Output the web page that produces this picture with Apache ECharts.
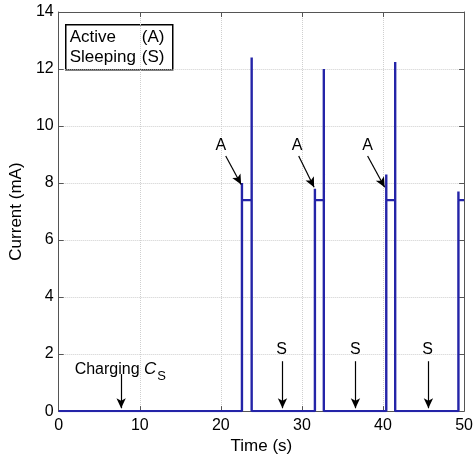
<!DOCTYPE html>
<html>
<head>
<meta charset="utf-8">
<script src="https://cdn.jsdelivr.net/npm/echarts@6/dist/echarts.min.js"></script>
<style>
html,body{margin:0;padding:0;background:#fff;}
#main{width:476px;height:460px;}
</style>
</head>
<body>
<div id="main"></div>
<script>
// step trace of the supply current
var time    = [0, 22.6, 22.6, 22.6, 23.8, 23.8, 23.8, 31.6, 31.6, 31.6, 32.7, 32.7, 32.7, 40.4, 40.4, 40.4, 41.5, 41.5, 41.5, 49.3, 49.3, 49.3, 50];
var current = [0, 0,    8.0,  7.4,  7.4,  12.4, 0,    0,    7.8,  7.4,  7.4,  12.0, 0,    0,    8.3,  7.4,  7.4,  12.25, 0,   0,    7.7,  7.4,  7.4];

var xMin = 0, xMax = 50, xStep = 10;
var yMin = 0, yMax = 14, yStep = 2;

// annotation anchors (data coords)
var activeText  = [[20.0, 9.3], [29.4, 9.3], [38.1, 9.3]];
var activeArrow = [[[20.6, 8.95], [22.5, 7.95]], [[29.6, 8.95], [31.5, 7.85]], [[38.1, 8.95], [40.2, 7.85]]];
var sleepText   = [[27.5, 2.16], [36.6, 2.16], [45.5, 2.16]];
var sleepArrow  = [[[27.6, 1.75], [27.6, 0.1]], [[36.6, 1.75], [36.6, 0.1]], [[45.6, 1.75], [45.6, 0.1]]];
var chargeText  = [7.6, 1.45];
var chargeArrow = [[7.7, 1.3], [7.7, 0.1]];

var FONT = 'Liberation Sans, Arial, Helvetica, sans-serif';

var pts = [];
for (var i = 0; i < time.length; i++) pts.push([time[i], current[i]]);

var lines = [];
activeArrow.concat(sleepArrow).concat([chargeArrow]).forEach(function (a) {
	lines.push([{coord: a[0]}, {coord: a[1]}]);
});

var labels = [];
activeText.forEach(function (p) { labels.push({coord: p, name: 'A'}); });
sleepText.forEach(function (p) { labels.push({coord: p, name: 'S'}); });
labels.push({coord: chargeText, name: 'charge',
	label: {formatter: 'Charging {i|C}{s|S}'}});

var axisCol = '#555';
var tick = {show: true, inside: true, length: 5, lineStyle: {color: axisCol}};
var grid = {show: true, lineStyle: {color: '#cfcfcf', type: 'dotted', width: 1}};

var myChart = echarts.init(document.getElementById('main'));
var option = {
	backgroundColor: '#fff',
	animation: false,
	textStyle: {fontFamily: FONT},
	grid: {left: 58, right: 11, top: 12, bottom: 43},
	xAxis: [
		{
			type: 'value', min: xMin, max: xMax, interval: xStep,
			name: 'Time (s)', nameLocation: 'middle', nameGap: 25,
			nameTextStyle: {color: '#000', fontSize: 17, fontFamily: FONT},
			axisLine: {onZero: false, lineStyle: {color: axisCol}},
			axisTick: tick,
			axisLabel: {color: '#000', fontSize: 16, margin: 6, fontFamily: FONT},
			splitLine: grid
		},
		{
			type: 'value', min: xMin, max: xMax, interval: xStep, position: 'top',
			axisLine: {onZero: false, lineStyle: {color: axisCol}},
			axisTick: tick, axisLabel: {show: false}, splitLine: {show: false}
		}
	],
	yAxis: [
		{
			type: 'value', min: yMin, max: yMax, interval: yStep,
			name: 'Current (mA)', nameLocation: 'middle', nameGap: 19,
			nameTextStyle: {color: '#000', fontSize: 17, fontFamily: FONT},
			axisLine: {show: true, onZero: false, lineStyle: {color: axisCol}},
			axisTick: tick,
			axisLabel: {color: '#000', fontSize: 16, margin: 5, fontFamily: FONT},
			splitLine: grid
		},
		{
			type: 'value', min: yMin, max: yMax, interval: yStep, position: 'right',
			axisLine: {show: true, onZero: false, lineStyle: {color: axisCol}},
			axisTick: tick, axisLabel: {show: false}, splitLine: {show: false}
		}
	],
	series: [
		{
			name: 'current',
			type: 'line',
			data: pts,
			showSymbol: false,
			symbol: 'none',
			lineStyle: {color: '#2424a8', width: 2.4},
			itemStyle: {color: '#2424a8'},
			markLine: {
				silent: true,
				symbol: ['none', 'arrow'],
				symbolSize: [7, 10],
				label: {show: false},
				lineStyle: {color: '#000', width: 1.2, type: 'solid'},
				data: lines
			},
			markPoint: {
				silent: true,
				symbol: 'circle',
				symbolSize: 1,
				itemStyle: {color: 'rgba(0,0,0,0)'},
				label: {
					show: true, position: 'inside', color: '#000',
					fontSize: 16, fontFamily: FONT,
					formatter: '{b}',
					rich: {
						i: {fontStyle: 'italic', fontSize: 17, fontFamily: FONT, color: '#000'},
						s: {fontSize: 13, fontFamily: FONT, color: '#000', padding: [14, 0, 0, 1]}
					}
				},
				data: labels
			}
		}
	],
	graphic: [
		{
			type: 'group', left: 65, top: 24, z: 100,
			children: [
				{type: 'rect', shape: {x: 0, y: 0, width: 107, height: 45},
				 style: {fill: '#fff', stroke: '#000', lineWidth: 1.5}},
				{type: 'text', x: 4, y: 13, style: {text: 'Active', font: '17px ' + FONT, fill: '#000', verticalAlign: 'middle'}},
				{type: 'text', x: 76, y: 13, style: {text: '(A)', font: '17px ' + FONT, fill: '#000', verticalAlign: 'middle'}},
				{type: 'text', x: 4, y: 33, style: {text: 'Sleeping', font: '17px ' + FONT, fill: '#000', verticalAlign: 'middle'}},
				{type: 'text', x: 76, y: 33, style: {text: '(S)', font: '17px ' + FONT, fill: '#000', verticalAlign: 'middle'}}
			]
		}
	]
};
myChart.setOption(option);
</script>
</body>
</html>
